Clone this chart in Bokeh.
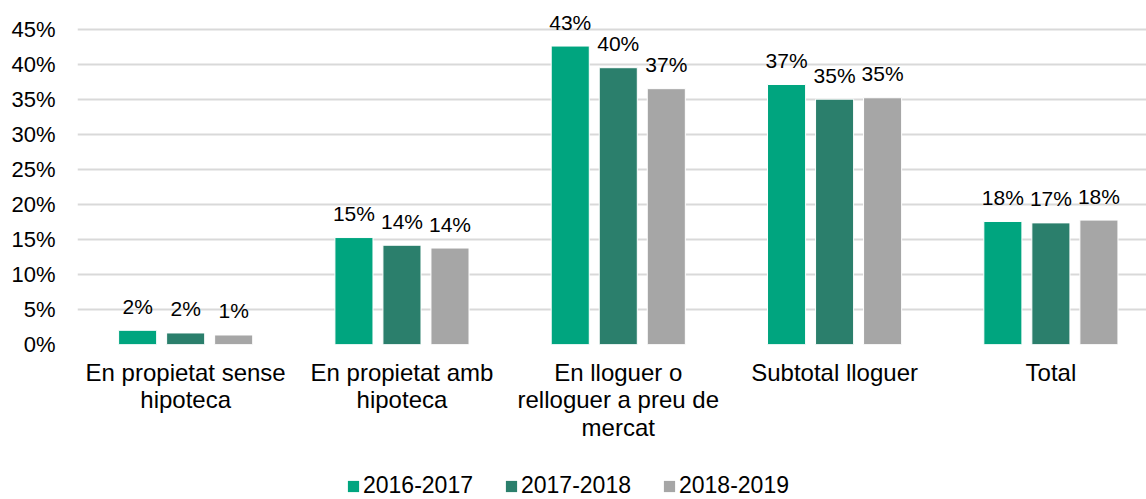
from bokeh.plotting import figure
from bokeh.layouts import column
from bokeh.models import (ColumnDataSource, Range1d, FixedTicker, NumeralTickFormatter,
                          Legend, LegendItem)
from bokeh.core.properties import value
from bokeh.embed import file_html
from bokeh.resources import INLINE

categories = ["En propietat sense\nhipoteca", "En propietat amb\nhipoteca",
              "En lloguer o\nrelloguer a preu de\nmercat", "Subtotal lloguer", "Total"]
series_names = ["2016-2017", "2017-2018", "2018-2019"]
s2016 = [0.0203, 0.153, 0.427, 0.372, 0.176]
s2017 = [0.0165, 0.142, 0.396, 0.351, 0.174]
s2018 = [0.0136, 0.138, 0.366, 0.353, 0.178]
colors = ["#00A57F", "#2B7F6C", "#A6A6A6"]
y_ticks = [0, 0.05, 0.10, 0.15, 0.20, 0.25, 0.30, 0.35, 0.40, 0.45]

FONT = "Liberation Sans"
centers = [i + 0.5 for i in range(len(categories))]
offsets = [-0.222, 0.0, 0.222]
bar_w = 0.176

p = figure(width=1146, height=472, output_backend="svg", toolbar_location=None,
           x_range=Range1d(0, 4.942), y_range=Range1d(0, 0.475),
           min_border_left=77, min_border_right=0, min_border_top=12, min_border_bottom=128)
p.outline_line_color = None
p.background_fill_color = "white"

for vals, off, col in zip([s2016, s2017, s2018], offsets, colors):
    src = ColumnDataSource(dict(x=[c + off for c in centers], top=vals,
                                lab=[f"{v*100:.0f}%" for v in vals]))
    p.vbar(x="x", top="top", width=bar_w, bottom=0, source=src,
           fill_color=col, line_color="white", line_width=1)
    p.text(x="x", y="top", text="lab", source=src, text_align="center",
           text_baseline="alphabetic", y_offset=-24, text_font=value(FONT),
           text_font_size="21px", text_color="#000000")

# axes
p.xaxis.ticker = FixedTicker(ticks=centers)
p.xaxis.major_label_overrides = {c: lab for c, lab in zip(centers, categories)}
p.xaxis.axis_line_color = None
p.xaxis.major_tick_line_color = None
p.xaxis.minor_tick_line_color = None
p.xaxis.major_tick_out = 0
p.xaxis.major_tick_in = 0
p.xaxis.major_label_standoff = 14
p.xaxis.major_label_text_font = FONT
p.xaxis.major_label_text_font_size = "24px"
p.xaxis.major_label_text_line_height = 1.03
p.xaxis.major_label_text_color = "#000000"

p.yaxis.ticker = FixedTicker(ticks=y_ticks)
p.yaxis.formatter = NumeralTickFormatter(format="0%")
p.yaxis.axis_line_color = None
p.yaxis.major_tick_line_color = None
p.yaxis.minor_tick_line_color = None
p.yaxis.major_tick_out = 0
p.yaxis.major_tick_in = 0
p.yaxis.major_label_standoff = 22
p.yaxis.major_label_text_font = FONT
p.yaxis.major_label_text_font_size = "22px"
p.yaxis.major_label_text_color = "#000000"

p.xgrid.grid_line_color = None
p.ygrid.ticker = FixedTicker(ticks=y_ticks)
p.ygrid.grid_line_color = "#D9D9D9"
p.ygrid.grid_line_width = 2

# legend strip below the chart
leg = figure(width=1146, height=27, output_backend="svg", toolbar_location=None,
             x_axis_type=None, y_axis_type=None, min_border=0,
             x_range=Range1d(0, 1), y_range=Range1d(0, 1))
leg.outline_line_color = None
leg.grid.visible = False
leg_renderers = [leg.vbar(x=[-10], top=[0], width=0.1, fill_color=col, line_color=None)
                 for col in colors]
legend = Legend(items=[LegendItem(label=n, renderers=[r]) for n, r in zip(series_names, leg_renderers)],
                orientation="horizontal", location=(269, 0),
                glyph_width=14, glyph_height=14, label_standoff=3, spacing=31,
                padding=0, margin=0, border_line_color=None, background_fill_alpha=0,
                label_text_font=FONT, label_text_font_size="23px", label_text_color="#000000",
                label_height=26)
leg.add_layout(legend, "center")

layout = column(p, leg, spacing=0)
open("out.html", "w").write(file_html(layout, INLINE))
